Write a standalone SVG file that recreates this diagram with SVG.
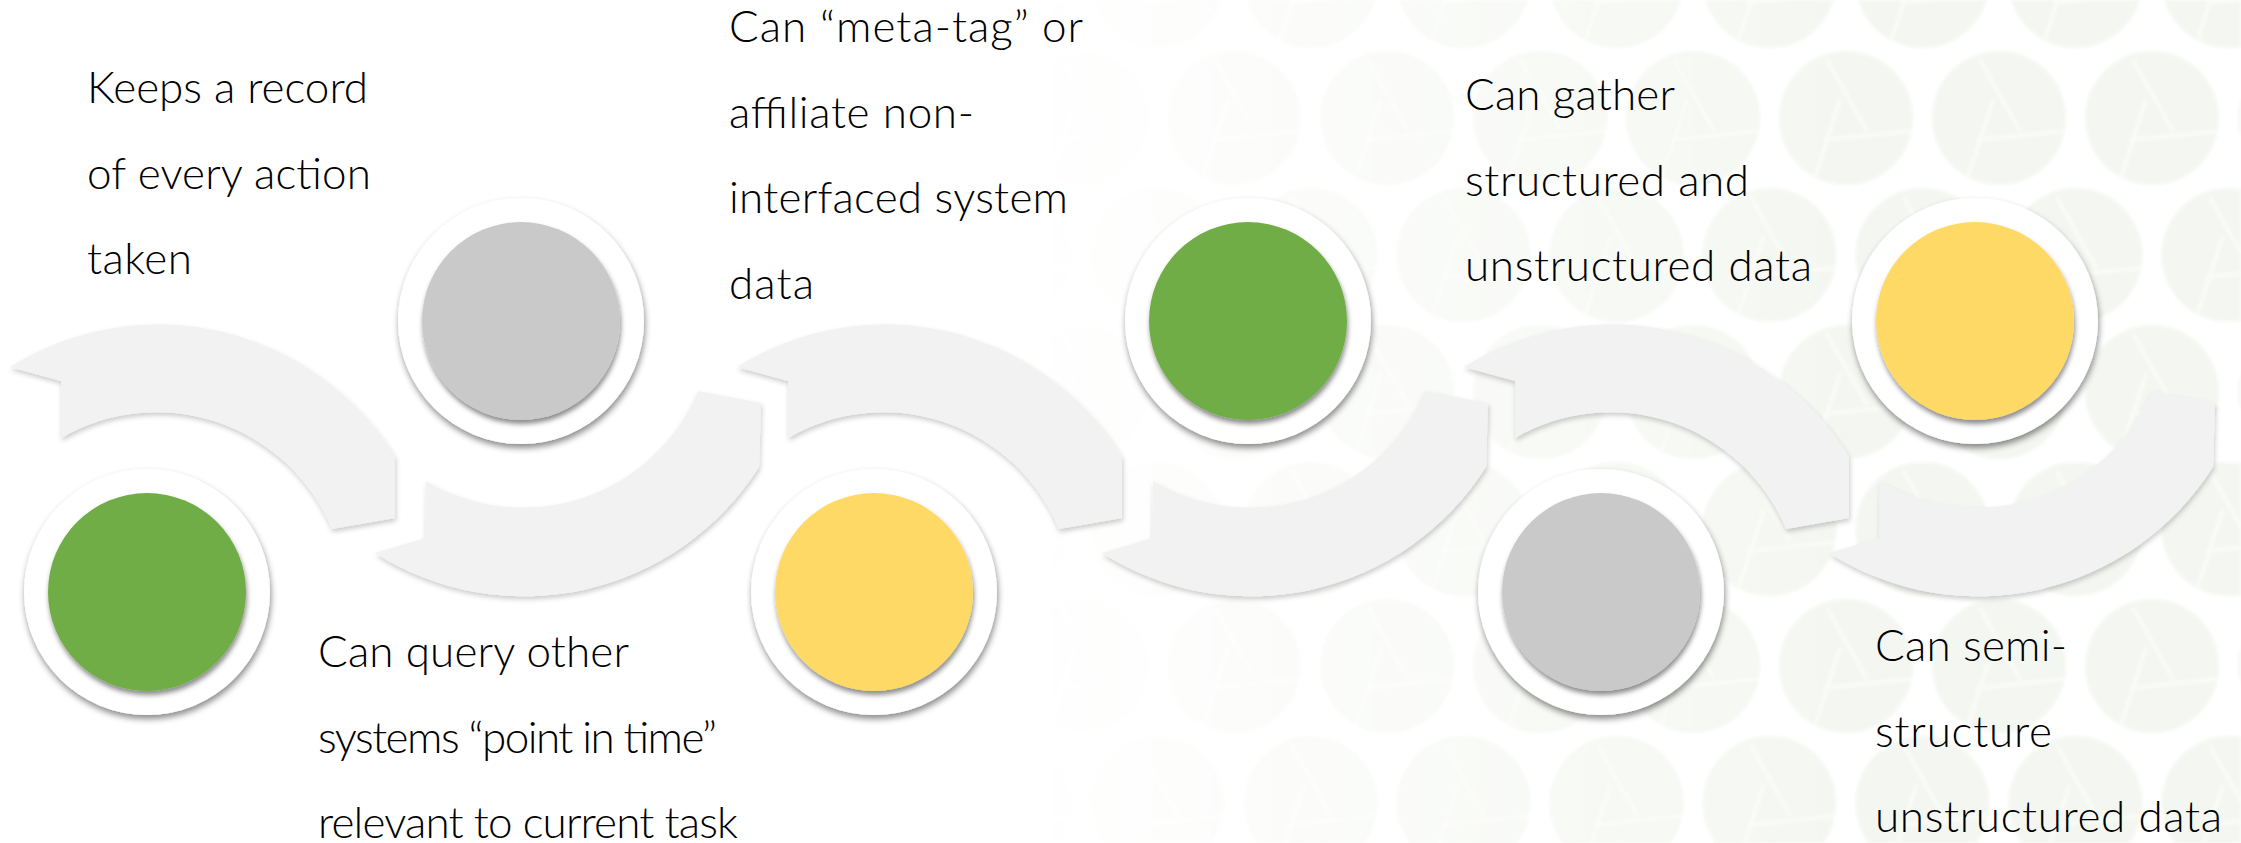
<svg xmlns="http://www.w3.org/2000/svg" xmlns:xlink="http://www.w3.org/1999/xlink" width="2241" height="843" viewBox="0 0 2241 843">
  <style>
    .lbl { font-family: Lato, "Open Sans", "Liberation Sans", sans-serif; font-weight: 300; font-size: 44px; fill: #000; }
    .arc { fill: #f2f2f2; filter: url(#arcShadow); }
    .ring { fill: #ffffff; filter: url(#ringShadow); }
    .disk { filter: url(#diskShadow); }
    .green { fill: #70ad47; }
    .gray { fill: #c9c9c9; }
    .gold { fill: #ffd966; }
  </style>
  <defs>
    <filter id="arcShadow" x="-10%" y="-15%" width="120%" height="140%">
      <feDropShadow dx="1" dy="3" stdDeviation="2.5" flood-color="#000" flood-opacity="0.2"/>
    </filter>
    <filter id="ringShadow" x="-15%" y="-15%" width="130%" height="135%">
      <feDropShadow dx="1" dy="4" stdDeviation="3" flood-color="#000" flood-opacity="0.45"/>
    </filter>
    <filter id="diskShadow" x="-15%" y="-15%" width="130%" height="135%">
      <feDropShadow dx="1" dy="4" stdDeviation="2.5" flood-color="#000" flood-opacity="0.45"/>
    </filter>
    <filter id="soften" x="0" y="0" width="100%" height="100%">
      <feGaussianBlur stdDeviation="1.5"/>
    </filter>

    <!-- curved band arching over a lower circle, and its mirror bending under an upper circle -->
    <path id="arcOver" d="M10 367 A278 278 0 0 1 395 457 L395 518 L332 529 A190 190 0 0 0 61 438 L61 381 Z"/>
    <path id="arcUnder" d="M375 553 A278 278 0 0 0 759 467 L761 403 L698 391 A190 190 0 0 1 426 481 L425 538 Z"/>

    <!-- faint logo watermark tiled over the right side -->
    <g id="logoMark">
      <circle r="67" fill="#f4f7f1"/>
      <path d="M-19 -58 L21 13 M-22 22 L66 13 M-6 -18 L-32 62" stroke="#fcfdfb" stroke-width="2.5" fill="none"/>
    </g>
    <pattern id="wmPattern" patternUnits="userSpaceOnUse" x="1769.5" y="49.5" width="153" height="274">
      <use xlink:href="#logoMark" x="76.5" y="68.5"/>
      <use xlink:href="#logoMark" x="0" y="205.5"/>
      <use xlink:href="#logoMark" x="153" y="205.5"/>
    </pattern>
    <linearGradient id="fadeGrad" gradientUnits="userSpaceOnUse" x1="1000" y1="0" x2="1850" y2="0">
      <stop offset="0" stop-color="#000"/>
      <stop offset="1" stop-color="#fff"/>
    </linearGradient>
    <mask id="fadeMask" maskUnits="userSpaceOnUse" x="0" y="0" width="2241" height="843">
      <rect width="2241" height="843" fill="url(#fadeGrad)"/>
    </mask>
  </defs>

  <rect width="2241" height="843" fill="#ffffff"/>
  <g mask="url(#fadeMask)">
    <rect id="watermark" width="2241" height="843" fill="url(#wmPattern)" filter="url(#soften)"/>
  </g>

  <g id="connectors">
    <use class="arc" xlink:href="#arcOver"/>
    <use class="arc" xlink:href="#arcUnder"/>
    <use class="arc" xlink:href="#arcOver" x="727"/>
    <use class="arc" xlink:href="#arcUnder" x="727"/>
    <use class="arc" xlink:href="#arcOver" x="1454"/>
    <use class="arc" xlink:href="#arcUnder" x="1454"/>
  </g>

  <g id="node-1">
    <circle class="ring" cx="147" cy="592" r="123"/>
    <circle class="disk green" cx="147" cy="592" r="99"/>
  </g>
  <g id="node-2">
    <circle class="ring" cx="521" cy="321" r="123"/>
    <circle class="disk gray" cx="521" cy="321" r="99"/>
  </g>
  <g id="node-3">
    <circle class="ring" cx="874" cy="592" r="123"/>
    <circle class="disk gold" cx="874" cy="592" r="99"/>
  </g>
  <g id="node-4">
    <circle class="ring" cx="1248" cy="321" r="123"/>
    <circle class="disk green" cx="1248" cy="321" r="99"/>
  </g>
  <g id="node-5">
    <circle class="ring" cx="1601" cy="592" r="123"/>
    <circle class="disk gray" cx="1601" cy="592" r="99"/>
  </g>
  <g id="node-6">
    <circle class="ring" cx="1975" cy="321" r="123"/>
    <circle class="disk gold" cx="1975" cy="321" r="99"/>
  </g>

  <g id="label-1">
    <text class="lbl" x="87" y="103" textLength="281" lengthAdjust="spacing">Keeps a record</text>
    <text class="lbl" x="87" y="188.5" textLength="284" lengthAdjust="spacing">of every action</text>
    <text class="lbl" x="87" y="274" textLength="105" lengthAdjust="spacing">taken</text>
  </g>
  <g id="label-2">
    <text class="lbl" x="729" y="42" textLength="354" lengthAdjust="spacing">Can “meta-tag” or</text>
    <text class="lbl" x="729" y="127.5" textLength="245" lengthAdjust="spacing">affiliate non-</text>
    <text class="lbl" x="729" y="213" textLength="339" lengthAdjust="spacing">interfaced system</text>
    <text class="lbl" x="729" y="298.5" textLength="85" lengthAdjust="spacing">data</text>
  </g>
  <g id="label-3">
    <text class="lbl" x="318" y="667" textLength="311" lengthAdjust="spacing">Can query other</text>
    <text class="lbl" x="318" y="752.5" textLength="399" lengthAdjust="spacing">systems “point in time”</text>
    <text class="lbl" x="318" y="838" textLength="420" lengthAdjust="spacing">relevant to current task</text>
  </g>
  <g id="label-4">
    <text class="lbl" x="1465" y="110" textLength="210" lengthAdjust="spacing">Can gather</text>
    <text class="lbl" x="1465" y="195.5" textLength="284" lengthAdjust="spacing">structured and</text>
    <text class="lbl" x="1465" y="281" textLength="347" lengthAdjust="spacing">unstructured data</text>
  </g>
  <g id="label-5">
    <text class="lbl" x="1875" y="661" textLength="192" lengthAdjust="spacing">Can semi-</text>
    <text class="lbl" x="1875" y="746.5" textLength="177" lengthAdjust="spacing">structure</text>
    <text class="lbl" x="1875" y="832" textLength="347" lengthAdjust="spacing">unstructured data</text>
  </g>
</svg>
